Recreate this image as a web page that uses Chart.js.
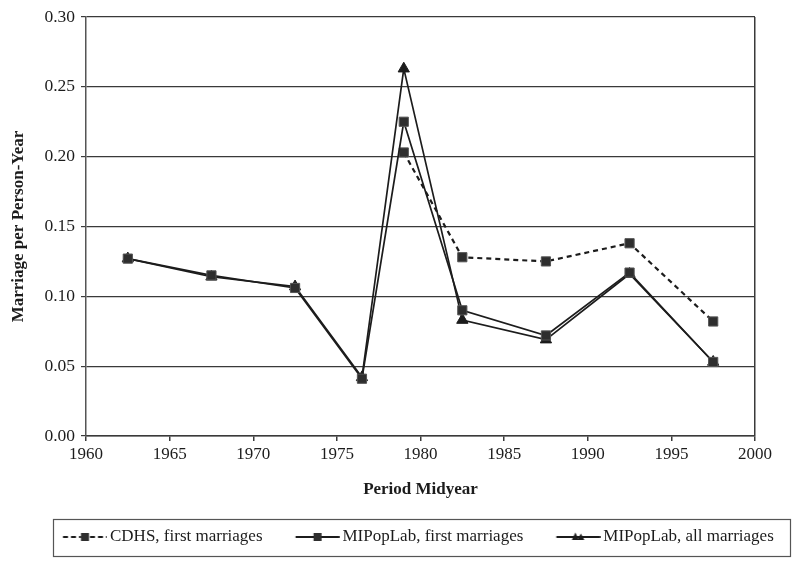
<!DOCTYPE html>
<html><head><meta charset="utf-8">
<script src="https://cdn.jsdelivr.net/npm/chart.js@4.4.1/dist/chart.umd.min.js"></script>
<style>html,body{margin:0;padding:0;background:#fff;} #wrap{width:800px;height:566px;}</style>
</head><body><div id="wrap"><canvas id="c" width="800" height="566"></canvas></div>
<script>
// ---- data ----
const periodMidyears = [1962.5, 1967.5, 1972.5, 1976.5, 1979, 1982.5, 1987.5, 1992.5, 1997.5];
const cdhsFirst  = [null, null, null, null, 0.203, 0.128, 0.125, 0.138, 0.082];
const mipopFirst = [0.127, 0.115, 0.106, 0.041, 0.225, 0.090, 0.072, 0.117, 0.053];
const mipopAll   = [0.127, 0.114, 0.107, 0.042, 0.263, 0.083, 0.069, 0.116, 0.053];
const seriesLabels = ['CDHS, first marriages', 'MIPopLab, first marriages', 'MIPopLab, all marriages'];
const xTickSpec = [1960, 2000, 5];
const yTickSpec = [0, 0.30, 0.05];
const xTitle = 'Period Midyear';
const yTitle = 'Marriage per Person-Year';

const FONT = "'Liberation Serif', 'Times New Roman', serif";
const INK = '#1c1c1c';
const GRID = '#3a3a3a';
const MARK = '#2e2e2e';

function pts(ys) { return periodMidyears.map((x, i) => ({x: x, y: ys[i]})); }

// legend icons (line + marker), drawn into small canvases
function makeIcon(kind) {
  const W = 73, H = 14, c = document.createElement('canvas');
  c.width = W; c.height = H;
  const g = c.getContext('2d');
  const x0 = 28.75, x1 = 72.75, cx = (x0 + x1) / 2, cy = 7;
  g.strokeStyle = INK; g.lineWidth = 2;
  if (kind === 'dash') {
    g.setLineDash([5, 3]);
    g.beginPath(); g.moveTo(x0, cy); g.lineTo(cx - 4, cy); g.stroke();
    g.beginPath(); g.moveTo(cx + 5, cy); g.lineTo(x1, cy); g.stroke();
    g.setLineDash([]);
  } else {
    g.beginPath(); g.moveTo(x0, cy); g.lineTo(x1, cy); g.stroke();
  }
  g.fillStyle = MARK;
  if (kind === 'tri') {
    g.fillStyle = INK;
    g.beginPath(); g.moveTo(cx - 3, cy - 4.5); g.lineTo(cx + 0.5, cy + 3); g.lineTo(cx - 6.5, cy + 3); g.closePath(); g.fill();
    g.beginPath(); g.moveTo(cx + 2.5, cy - 3.5); g.lineTo(cx + 6, cy + 3); g.lineTo(cx - 1, cy + 3); g.closePath(); g.fill();
  } else {
    g.fillRect(cx - 4, cy - 4, 8, 8);
  }
  return c;
}
const legendIcons = [makeIcon('dash'), makeIcon('sq'), makeIcon('tri')];

const LEG_PAD = 10, LEG_FONT = 17;

const legendPlacer = {
  id: 'legendPlacer',
  afterUpdate(chart) {
    const lg = chart.legend;
    if (!lg || !lg.legendHitBoxes || !lg.legendHitBoxes.length) return;
    const dx = 40 - lg.legendHitBoxes[0].left;
    const dy = (537 - LEG_PAD - LEG_FONT / 2) - lg.top;
    lg.left += dx; lg.right += dx; lg.top += dy; lg.bottom += dy;
    lg.legendHitBoxes.forEach(h => { h.left += dx; h.top += dy; });
  },
  afterDraw(chart) {
    const lg = chart.legend;
    if (!lg || !lg.legendHitBoxes || !lg.legendHitBoxes.length) return;
    const hb = lg.legendHitBoxes, first = hb[0], last = hb[hb.length - 1];
    const cy = first.top + first.height / 2;
    const ctx = chart.ctx;
    ctx.save();
    ctx.strokeStyle = '#555'; ctx.lineWidth = 1.2;
    ctx.strokeRect(Math.round(first.left + 13) + 0.5, Math.round(cy - 18) + 0.5,
                   Math.round(last.left + last.width + 16 - (first.left + 13)), 37);
    ctx.restore();
  }
};

Chart.defaults.font.family = FONT;
Chart.defaults.color = INK;

new Chart(document.getElementById('c'), {
  type: 'line',
  data: {
    datasets: [
      { label: seriesLabels[0], data: pts(cdhsFirst), borderColor: INK, borderWidth: 2.2, borderDash: [5, 4],
        pointStyle: 'rect', pointRadius: 6.5, pointBackgroundColor: MARK, pointBorderColor: '#555', pointBorderWidth: 1,
        spanGaps: false, tension: 0, order: 3 },
      { label: seriesLabels[1], data: pts(mipopFirst), borderColor: INK, borderWidth: 1.7,
        pointStyle: 'rect', pointRadius: 6.5, pointBackgroundColor: MARK, pointBorderColor: '#555', pointBorderWidth: 1,
        tension: 0, order: 1 },
      { label: seriesLabels[2], data: pts(mipopAll), borderColor: INK, borderWidth: 1.7,
        pointStyle: 'triangle', pointRadius: 6.5, pointBackgroundColor: INK, pointBorderColor: INK, pointBorderWidth: 1,
        tension: 0, order: 2 }
    ]
  },
  options: {
    responsive: false,
    animation: false,
    events: [],
    layout: { padding: { top: 17, right: 45, left: 0, bottom: 29 } },
    scales: {
      x: {
        type: 'linear', min: xTickSpec[0], max: xTickSpec[1],
        ticks: { stepSize: xTickSpec[2], padding: 3, color: INK, font: { size: 17 },
                 callback: v => String(v), maxRotation: 0 },
        grid: { drawOnChartArea: true, color: c => (c.tick && c.tick.value === xTickSpec[1]) ? GRID : 'rgba(0,0,0,0)',
                tickColor: GRID, tickLength: 5, lineWidth: 1.5 },
        border: { display: true, color: GRID, width: 1.5 },
        title: { display: true, text: xTitle, color: INK, font: { size: 17, weight: 'bold' }, padding: { top: 0, bottom: 0 } },
        afterFit: s => { s.height = 64; }
      },
      y: {
        min: yTickSpec[0], max: yTickSpec[1],
        ticks: { stepSize: yTickSpec[2], padding: 6, color: INK, font: { size: 17.5 }, callback: v => Number(v).toFixed(2) },
        grid: { color: GRID, lineWidth: 1.2, tickColor: GRID, tickLength: 5 },
        border: { display: true, color: '#555', width: 1.5 },
        title: { display: true, text: yTitle, color: INK, font: { size: 17, weight: 'bold' }, padding: { top: 8, bottom: 0 } },
        afterFit: s => { s.width = 86; }
      }
    },
    plugins: {
      tooltip: { enabled: false },
      legend: {
        display: true, position: 'bottom',
        labels: {
          usePointStyle: true, pointStyleWidth: 61.5, padding: LEG_PAD, color: INK,
          font: { size: LEG_FONT },
          sort: (a, b) => a.datasetIndex - b.datasetIndex,
          generateLabels: chart => {
            const items = Chart.defaults.plugins.legend.labels.generateLabels(chart);
            items.forEach(it => { it.pointStyle = legendIcons[it.datasetIndex]; it.lineDash = []; });
            return items;
          }
        }
      }
    }
  },
  plugins: [legendPlacer]
});
</script>
</body></html>
